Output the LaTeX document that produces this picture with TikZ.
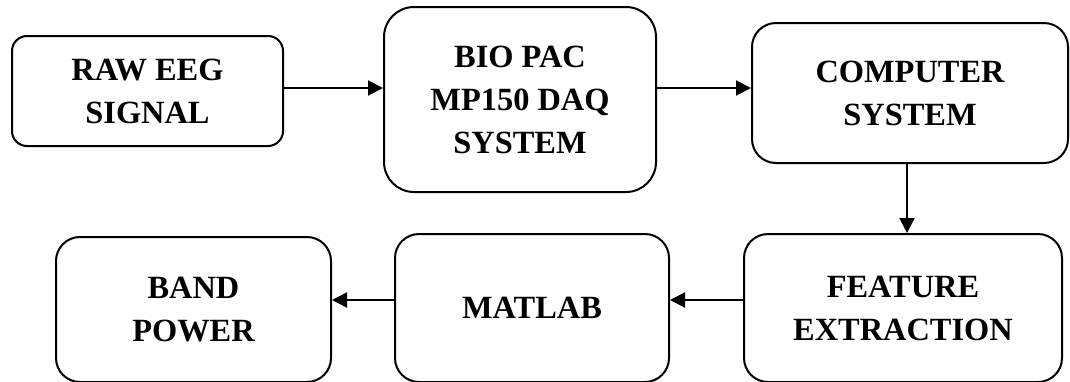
\documentclass[tikz,border=0pt]{standalone}
\usepackage{fontspec}
\setmainfont{Liberation Serif}
\usetikzlibrary{arrows.meta}

\tikzset{
    blockbox/.style={draw=black, line width=1pt, rounded corners=12pt, align=center,
        font=\fontsize{16.2}{21.5}\selectfont\bfseries, inner sep=0pt},
    flowarrow/.style={draw=black, line width=1pt, -{Triangle[length=7.5pt,width=7.5pt]}}
}

\begin{document}
\begin{tikzpicture}[x=0.5pt,y=-0.5pt]
        \useasboundingbox (0,0) rectangle (1070,381);

        \node[blockbox, rounded corners=7.5pt, minimum width=135.5pt, minimum height=55pt] (raw) at (147.5,91) {RAW EEG\\SIGNAL};
        \node[blockbox, rounded corners=15pt, minimum width=136pt, minimum height=92.5pt] (biopac) at (520,99.5) {BIO PAC\\MP150 DAQ\\SYSTEM};
        \node[blockbox, minimum width=158pt, minimum height=70pt] (computer) at (910,93) {COMPUTER\\SYSTEM};
        \node[blockbox, minimum width=159pt, minimum height=74pt] (feature) at (903,308) {FEATURE\\EXTRACTION};
        \node[blockbox, minimum width=137pt, minimum height=74pt] (matlab) at (532,308) {MATLAB};
        \node[blockbox, minimum width=137.5pt, minimum height=72.5pt] (bandpower) at (193.5,309.5) {BAND\\POWER};

        \draw [flowarrow] ([yshift=1.5pt]raw.east) -- ([yshift=1.5pt]raw.east -| biopac.west);
        \draw [flowarrow] ([yshift=1.5pt]raw.east -| biopac.east) -- ([yshift=1.5pt]raw.east -| computer.west);
        \draw [flowarrow] ([xshift=-1.5pt]computer.south) -- ([xshift=-1.5pt]computer.south |- feature.north);
        \draw [flowarrow] ([yshift=4pt]feature.west) -- ([yshift=4pt]feature.west -| matlab.east);
        \draw [flowarrow] ([yshift=4pt]feature.west -| matlab.west) -- ([yshift=4pt]feature.west -| bandpower.east);

\end{tikzpicture}
\end{document}
